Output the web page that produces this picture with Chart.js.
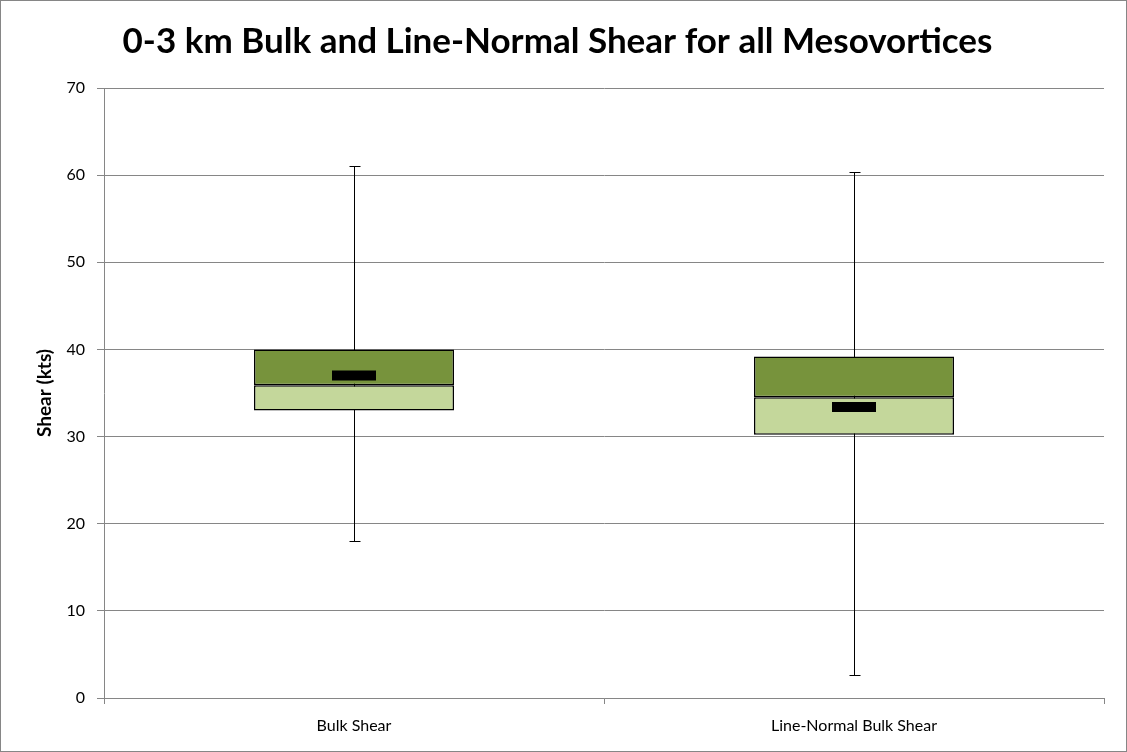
<!DOCTYPE html>
<html>
<head>
<meta charset="utf-8">
<script src="https://cdn.jsdelivr.net/npm/chart.js@4/dist/chart.umd.min.js"></script>
<style>
  html, body { margin: 0; padding: 0; background: #fff; }
  #wrap { width: 1127px; height: 752px; box-sizing: border-box; border: 1px solid #868686; position: relative; }
  #wrap canvas { display: block; }
</style>
</head>
<body>
<div id="wrap"><canvas id="box-chart" width="1125" height="750"></canvas></div>
<script>
// 0-3 km shear, box-and-whisker per category
const categories   = ['Bulk Shear', 'Line-Normal Bulk Shear'];
const whiskerMin   = [18.0, 2.6];
const quartile1    = [33.0, 30.2];
const medians      = [35.9, 34.5];
const quartile3    = [40.0, 39.2];
const whiskerMax   = [61.0, 60.4];
const means        = [37.0, 33.4];
const yTicks       = [0, 10, 20, 30, 40, 50, 60, 70];

const FONT  = 'Lato, "Open Sans", sans-serif';
const GRID  = '#868686';

// whiskers go behind the boxes
const whiskerPlugin = {
  id: 'whiskers',
  beforeDatasetsDraw(chart) {
    const { ctx, scales: { x, y } } = chart;
    ctx.save();
    ctx.strokeStyle = '#000';
    ctx.lineWidth = 1;
    categories.forEach((c, i) => {
      const cx  = Math.round(x.getPixelForValue(i)) + 0.5;
      const top = Math.round(y.getPixelForValue(whiskerMax[i])) + 0.5;
      const bot = Math.round(y.getPixelForValue(whiskerMin[i])) + 0.5;
      ctx.beginPath();
      ctx.moveTo(cx, top); ctx.lineTo(cx, bot);
      ctx.moveTo(cx - 5, top); ctx.lineTo(cx + 6, top);
      ctx.moveTo(cx - 5, bot); ctx.lineTo(cx + 6, bot);
      ctx.stroke();
    });
    ctx.restore();
  },
};

new Chart(document.getElementById('box-chart'), {
  type: 'bar',
  data: {
    labels: categories,
    datasets: [
      {
        type: 'line',
        label: 'Mean',
        data: means,
        showLine: false,
        pointStyle: 'line',
        pointRadius: 22,
        pointHoverRadius: 22,
        pointBorderWidth: 10,
        pointBorderColor: '#000',
        order: 0,
      },
      {
        label: 'Median to Q3',
        data: categories.map((c, i) => [medians[i], quartile3[i]]),
        backgroundColor: '#77933C',
        borderColor: '#000',
        borderWidth: 1.5,
        borderSkipped: false,
        grouped: false,
        order: 1,
      },
      {
        label: 'Q1 to Median',
        data: categories.map((c, i) => [quartile1[i], medians[i]]),
        backgroundColor: '#C4D79B',
        borderColor: '#000',
        borderWidth: 1.5,
        borderSkipped: false,
        grouped: false,
        order: 2,
      },
    ],
  },
  options: {
    responsive: false,
    animation: false,
    layout: { autoPadding: false, padding: { left: 10, right: 22, top: 0, bottom: 0 } },
    datasets: { bar: { categoryPercentage: 1, barPercentage: 0.4 } },
    plugins: {
      legend:  { display: false },
      tooltip: { enabled: false },
      title: {
        display: true,
        text: '0-3 km Bulk and Line-Normal Shear for all Mesovortices',
        color: '#000',
        font: { family: FONT, size: 35, weight: 'bold', lineHeight: 1.2 },
        padding: { top: 20, bottom: 25 },
      },
    },
    scales: {
      x: {
        offset: true,
        grid: { offset: true, drawOnChartArea: false, drawTicks: true, tickLength: 6, color: GRID },
        border: { color: GRID },
        ticks: { color: '#000', font: { family: FONT, size: 16 }, padding: 12 },
        afterFit(scale) { scale.height = 53; },
      },
      y: {
        min: 0,
        max: 70,
        afterBuildTicks(scale) { scale.ticks = yTicks.map((v) => ({ value: v })); },
        grid: { color: GRID, tickLength: 7 },
        border: { color: GRID },
        ticks: { color: '#000', font: { family: FONT, size: 16 }, padding: 12 },
        title: {
          display: true,
          text: 'Shear (kts)',
          color: '#000',
          font: { family: FONT, size: 19, weight: 'bold' },
          padding: { top: 22, bottom: 0 },
        },
        afterFit(scale) { scale.width = 93; },
      },
    },
  },
  plugins: [whiskerPlugin],
});
</script>
</body>
</html>
